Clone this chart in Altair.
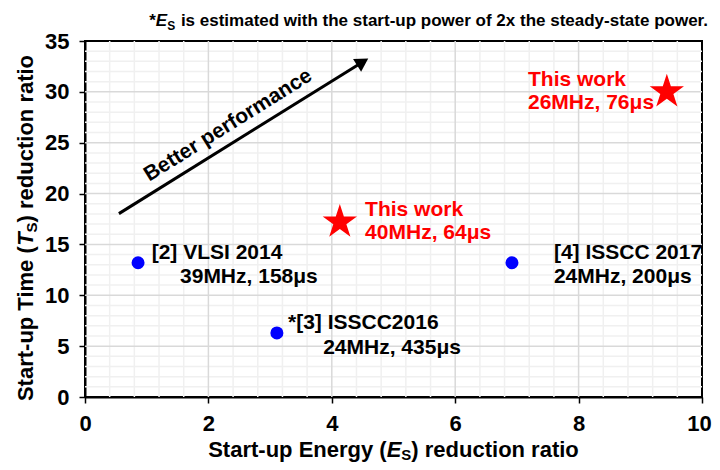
import altair as alt
import pandas as pd

FONT = "Liberation Sans"

# ---------------- data ----------------
ref_x = [0.86, 3.11, 6.92]
ref_y = [13.2, 6.3, 13.2]
work_x = [4.13, 9.43]
work_y = [17.2, 30.0]

label_text = ["[2] VLSI 2014", "39MHz, 158μs", "*[3] ISSCC2016", "24MHz, 435μs",
              "[4] ISSCC 2017", "24MHz, 200μs", "This work", "40MHz, 64μs",
              "This work", "26MHz, 76μs"]
label_x = [1.08, 1.54, 3.29, 3.86, 7.60, 7.60, 4.54, 4.54, 7.18, 7.18]
label_y = [14.13, 11.8, 7.25, 4.82, 14.13, 11.8, 18.36, 16.1, 31.14, 28.87]
label_grp = ["ref"] * 6 + ["work"] * 4

arrow_x = [0.55, 4.50]
arrow_y = [18.03, 32.94]
arrow_text = ["Better performance"]
arrow_text_x = [2.32]
arrow_text_y = [26.7]

x_ticks = [0, 2, 4, 6, 8, 10]
y_ticks = [0, 5, 10, 15, 20, 25, 30, 35]
x_major_grid = [2, 4, 6, 8]
y_major_grid = [5, 10, 15, 20, 25, 30]
x_minor_grid = [0.4, 0.8, 1.2, 1.6, 2.4, 2.8, 3.2, 3.6, 4.4, 4.8, 5.2, 5.6,
                6.4, 6.8, 7.2, 7.6, 8.4, 8.8, 9.2, 9.6]
y_minor_grid = [1, 2, 3, 4, 6, 7, 8, 9, 11, 12, 13, 14, 16, 17, 18, 19,
                21, 22, 23, 24, 26, 27, 28, 29, 31, 32, 33, 34]

STAR = ("M0,-1L0.2245,-0.309L0.951,-0.309L0.3633,0.118L0.588,0.809L0,0.382"
        "L-0.588,0.809L-0.3633,0.118L-0.951,-0.309L-0.2245,-0.309Z")

W, H = 617, 356
xs = alt.Scale(domain=[0, 10], nice=False, zero=False)
ys = alt.Scale(domain=[0, 35], nice=False, zero=False)

axis_common = dict(grid=False, domainColor="black", domainWidth=2, tickColor="black",
                   tickSize=6, tickWidth=1.5, labelFont=FONT, labelFontSize=22,
                   labelFontWeight="bold", labelColor="black", title=None, labelPadding=10,
                   labelFlush=False, labelOverlap=False)
AX = alt.Axis(values=x_ticks,
              labelOffset={"condition": {"test": "datum.value == 10", "value": -3}, "value": 0},
              **axis_common)
AY = alt.Axis(values=y_ticks, **axis_common)


def X(f):
    return alt.X(f, scale=xs, axis=AX)


def Y(f):
    return alt.Y(f, scale=ys, axis=AY)


# grid
minor_x = alt.Chart(pd.DataFrame({"v": x_minor_grid})).mark_rule(color="#f0f0f0", strokeWidth=1.5).encode(
    x=X("v:Q"))
minor_y = alt.Chart(pd.DataFrame({"v": y_minor_grid})).mark_rule(color="#f0f0f0", strokeWidth=1.5).encode(
    y=Y("v:Q"))
major_x = alt.Chart(pd.DataFrame({"v": x_major_grid})).mark_rule(color="#d9d9d9", strokeWidth=1.5).encode(
    x=X("v:Q"))
major_y = alt.Chart(pd.DataFrame({"v": y_major_grid})).mark_rule(color="#d9d9d9", strokeWidth=1.5).encode(
    y=Y("v:Q"))

# arrow
arrow_df = pd.DataFrame({"x": arrow_x, "y": arrow_y})
arrow_line = alt.Chart(arrow_df).mark_line(color="black", strokeWidth=3).encode(
    x=X("x:Q"), y=Y("y:Q"))
arrow_head = alt.Chart(arrow_df.iloc[[1]]).mark_point(
    shape="triangle-up", filled=True, color="black", size=230, angle=58, opacity=1).encode(
    x=X("x:Q"), y=Y("y:Q"))
arrow_lbl = alt.Chart(pd.DataFrame({"x": arrow_text_x, "y": arrow_text_y, "t": arrow_text})).mark_text(
    font=FONT, fontSize=21, fontWeight="bold", angle=328, align="center", baseline="middle",
    color="black").encode(
    x=X("x:Q"), y=Y("y:Q"), text="t:N")

# points
refs = alt.Chart(pd.DataFrame({"x": ref_x, "y": ref_y})).mark_circle(
    color="#0000ff", size=170, opacity=1).encode(
    x=X("x:Q"), y=Y("y:Q"))
works = alt.Chart(pd.DataFrame({"x": work_x, "y": work_y})).mark_point(
    shape=STAR, filled=True, color="#ff0000", size=1300, opacity=1, strokeWidth=0).encode(
    x=X("x:Q"), y=Y("y:Q"))

labels = alt.Chart(pd.DataFrame({"x": label_x, "y": label_y, "t": label_text, "g": label_grp})).mark_text(
    font=FONT, fontSize=21, fontWeight="bold", align="left", baseline="middle").encode(
    x=X("x:Q"), y=Y("y:Q"), text="t:N",
    color=alt.Color("g:N", scale=alt.Scale(domain=["ref", "work"], range=["black", "#ff0000"]), legend=None))


def piece(text, x, y, dx=0, dy=0, size=22, style="normal", align="left", angle=0):
    return alt.Chart(pd.DataFrame({"t": [text]})).mark_text(
        font=FONT, fontSize=size, fontWeight="bold", fontStyle=style, align=align,
        baseline="alphabetic", angle=angle, dx=dx, dy=dy, color="black").encode(
        x=alt.value(x), y=alt.value(y), text="t:N")


# x title: Start-up Energy (E_S) reduction ratio
fs = 22
w1 = 8.112 * fs
wE = 0.667 * fs
wS = 0.667 * 15
xt_start = W / 2 - (w1 + wE + wS + 7.612 * fs) / 2
xt_y = 416
x_title = [
    piece("Start-up Energy (", xt_start, xt_y),
    piece("E", xt_start + w1, xt_y, style="italic"),
    piece("S", xt_start + w1 + wE, xt_y, dy=3, size=15),
    piece(") reduction ratio", xt_start + w1 + wE + wS, xt_y),
]

# y title: Start-up Time (T_S) reduction ratio (rotated)
v1 = 7.056 * fs
vT = 0.611 * fs
vS = 0.667 * 15
ytot = v1 + vT + vS + 7.612 * fs
yt_x = -52
yt_bottom = 187 + ytot / 2
y_title = [
    piece("Start-up Time (", yt_x, yt_bottom, angle=270),
    piece("T", yt_x, yt_bottom, dx=v1, angle=270, style="italic"),
    piece("S", yt_x, yt_bottom, dx=v1 + vT, dy=4, size=15, angle=270),
    piece(") reduction ratio", yt_x, yt_bottom, dx=v1 + vT + vS, angle=270),
]

# note
nf = 17
n3 = 31.341 * nf
nS = 0.667 * 12
nE = 0.667 * nf
nx, ny = 623, -15
note = [
    piece(" is estimated with the start-up power of 2x the steady-state power.", nx, ny, size=nf, align="right"),
    piece("S", nx, ny, dx=-n3, dy=4, size=12, align="right"),
    piece("E", nx, ny, dx=-n3 - nS, size=nf, style="italic", align="right"),
    piece("*", nx, ny, dx=-n3 - nS - nE, size=nf, align="right"),
]

chart = alt.layer(
    minor_x, minor_y, major_x, major_y, refs, works, arrow_line, arrow_head, arrow_lbl, labels,
    *x_title, *y_title, *note
).properties(
    width=W, height=H,
    background="white",
    autosize=alt.AutoSizeParams(type="none"),
    padding={"left": 77, "top": 33, "right": 10, "bottom": 65},
).configure_view(stroke="black", strokeWidth=2)

chart.save("out.html", embed_options={"renderer": "svg", "actions": False})
